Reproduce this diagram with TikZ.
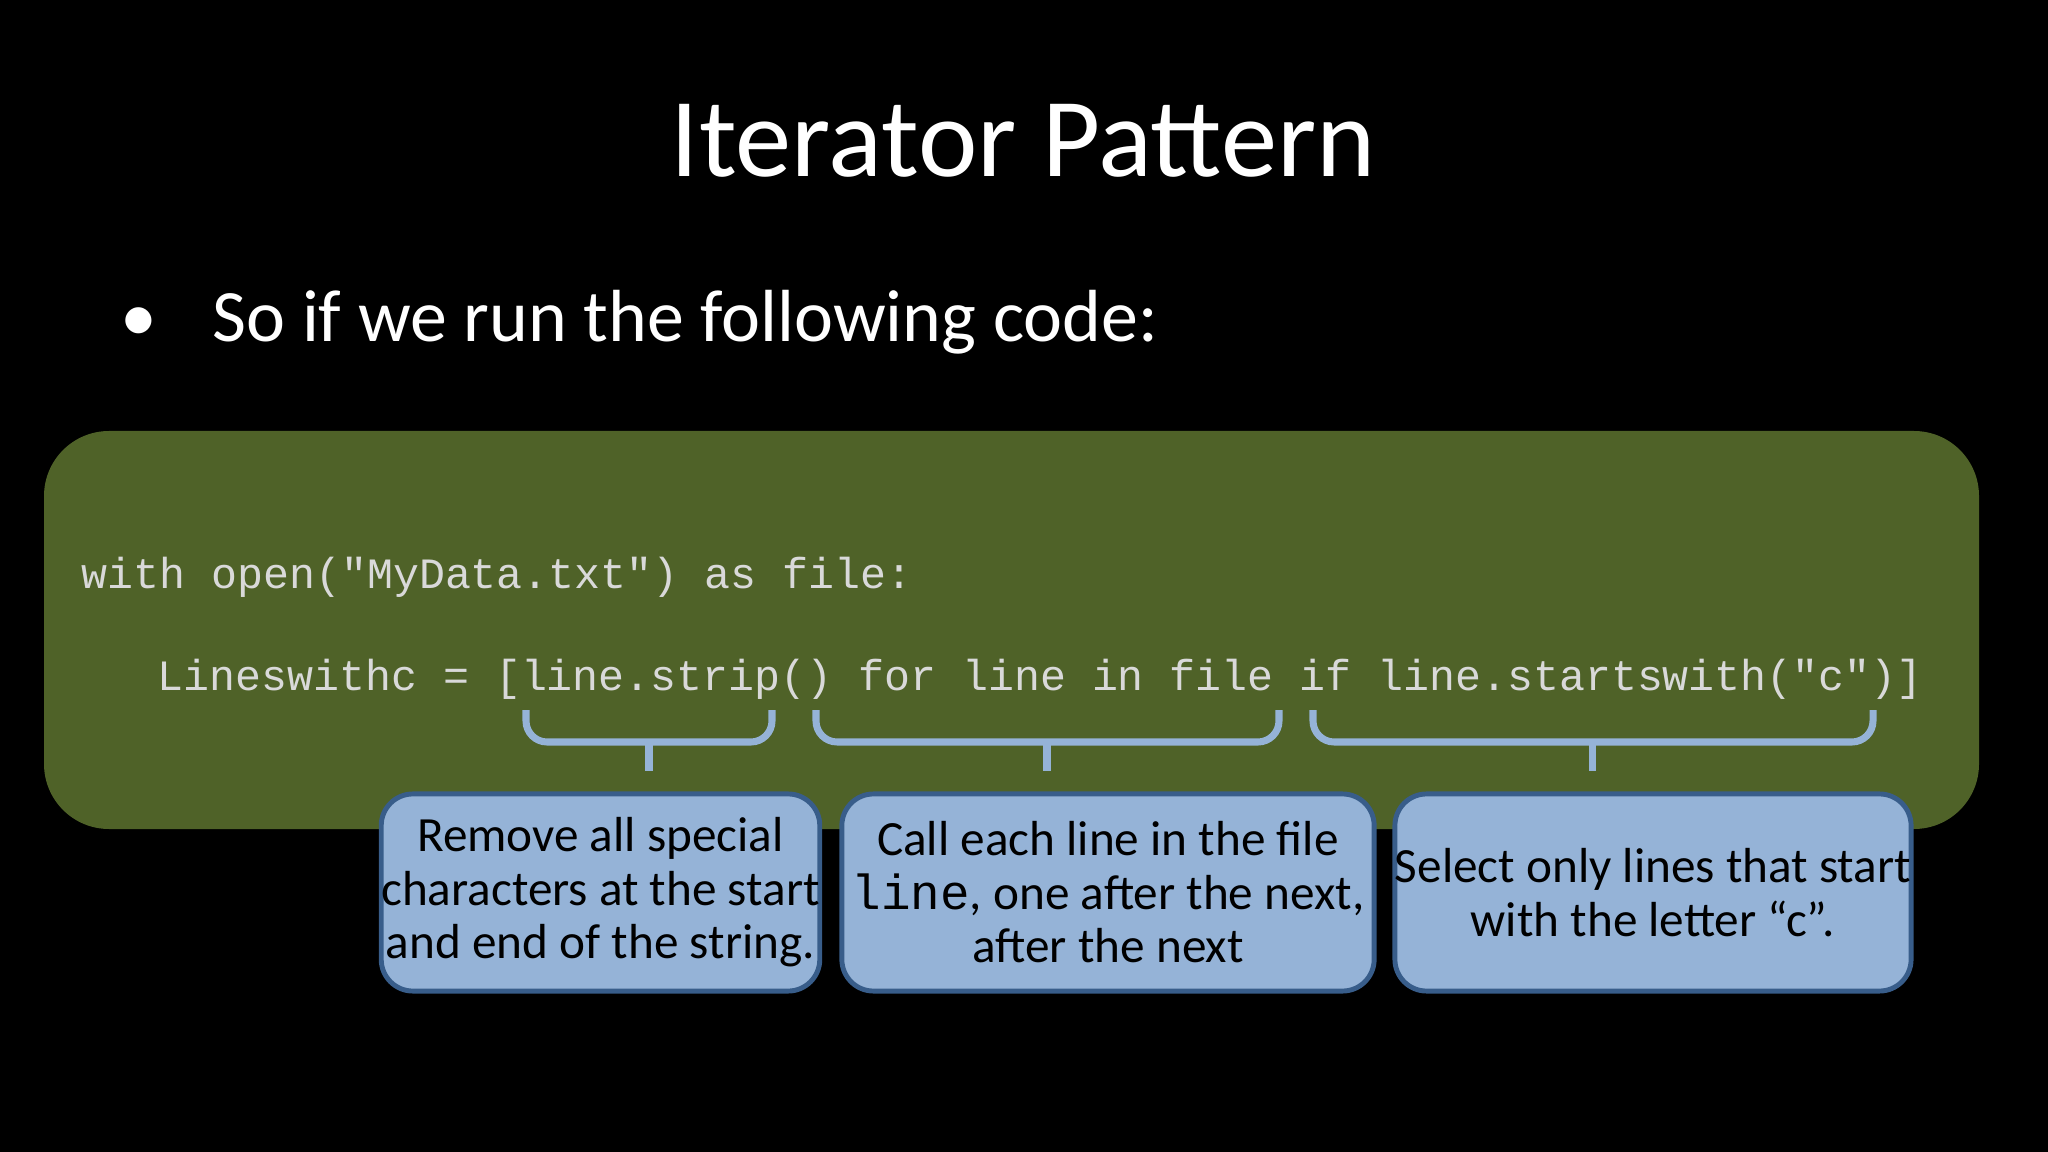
\documentclass[tikz,border=0pt]{standalone}
\usepackage{fontspec}
\setmainfont{Carlito}
\setmonofont{Liberation Mono}
\begin{document}
\begin{tikzpicture}[x=0.01cm,y=-0.01cm,
  code/.style={anchor=base west,inner sep=0,text=codegray,font=\fontsize{12.3}{14}\selectfont\ttfamily},
  note/.style={draw=boxedge,line width=1.4pt,fill=boxblue,rounded corners=9pt,align=center,
     font=\fontsize{14}{15.2}\selectfont,text=black,inner sep=0},
  brace/.style={draw=braceblue,line width=2pt,rounded corners=6pt}]
\definecolor{olive}{HTML}{4F6228}
\definecolor{codegray}{HTML}{D9D9D9}
\definecolor{boxblue}{HTML}{95B3D7}
\definecolor{boxedge}{HTML}{385D8A}
\definecolor{braceblue}{HTML}{95B3D7}
\fill[black] (0,0) rectangle (2048,1152);
\node[anchor=base,text=white,font=\fontsize{32}{36}\selectfont] (title) at (1023,177) {Iterator Pattern};
\node[anchor=base west,text=white,font=\fontsize{21}{24}\selectfont,inner sep=0] (bullet) at (120,342) {\textbullet\hspace{0.55cm}So if we run the following code:};
\fill[olive,rounded corners=0.65cm] (44,431) rectangle (1979,829);
\node[code] (c1) at (81,588) {with open("MyData.txt") as file:};
\node[code] (c2) at (157,690) {Lineswithc = [line.strip() for line in file if line.startswith("c")]};
\foreach \a/\b/\m in {526/772/649, 816/1279/1047, 1313/1873/1592}{
  \draw[brace] (\a,710) -- (\a,742) -- (\b,742) -- (\b,710);
  \draw[draw=braceblue,line width=2pt] (\m,742) -- (\m,771);
}
\node[note,minimum width=435\pgflinewidth*0+4.35cm,minimum height=1.97cm] (b1) at (600.5,892.5) {Remove all special\\characters at the start\\and end of the string.};
\node[note,minimum width=5.32cm,minimum height=1.97cm] (b2) at (1108,892.5) {Call each line in the file\\{\ttfamily line}, one after the next,\\after the next};
\node[note,minimum width=5.08cm,minimum height=1.97cm] (b3) at (1653,892.5) {Select only lines that start\\with the letter “c”.};
\end{tikzpicture}
\end{document}
